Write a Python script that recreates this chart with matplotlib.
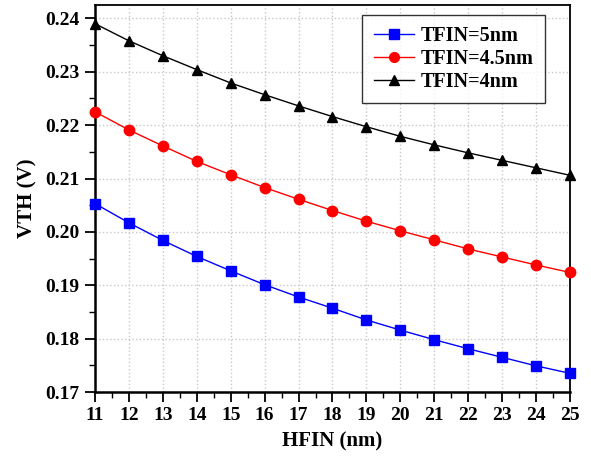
import matplotlib
matplotlib.use("Agg")
import matplotlib.pyplot as plt
from matplotlib.ticker import MultipleLocator, FormatStrFormatter

hfin = [11, 12, 13, 14, 15, 16, 17, 18, 19, 20, 21, 22, 23, 24, 25]
vth_5nm = [0.2053, 0.2017, 0.1984, 0.1954, 0.1927, 0.1901, 0.1878, 0.1857,
           0.1835, 0.1816, 0.1798, 0.1781, 0.1765, 0.1749, 0.1735]
vth_45nm = [0.2225, 0.2191, 0.2161, 0.2132, 0.2107, 0.2083, 0.2061, 0.2040,
            0.2020, 0.2002, 0.1985, 0.1968, 0.1953, 0.1938, 0.1924]
vth_4nm = [0.2390, 0.2358, 0.2330, 0.2304, 0.2279, 0.2257, 0.2236, 0.2216,
           0.2197, 0.2179, 0.2163, 0.2148, 0.2134, 0.2120, 0.2106]
labels = ["TFIN=5nm", "TFIN=4.5nm", "TFIN=4nm"]

plt.rcParams['font.family'] = ['Liberation Serif', 'DejaVu Serif']
plt.rcParams['font.weight'] = 'bold'

fig = plt.figure(figsize=(5.91, 4.57), dpi=100)
ax = fig.add_axes([0.1607, 0.1422, 0.8038, 0.8468])

ax.plot(hfin, vth_5nm, color='#0000ff', marker='s', markersize=6.5, lw=1.0, label=labels[0], clip_on=False, zorder=3)
ax.plot(hfin, vth_45nm, color='#ff0000', marker='o', markersize=7.5, lw=1.0, label=labels[1], clip_on=False, zorder=3)
ax.plot(hfin, vth_4nm, color='black', marker='^', markersize=7.5, lw=1.0, label=labels[2], clip_on=False, zorder=3)

ax.set_xlim(11, 25)
ax.set_ylim(0.17, 0.2425)
ax.xaxis.set_major_locator(MultipleLocator(1))
ax.xaxis.set_minor_locator(MultipleLocator(0.5))
ax.yaxis.set_major_locator(MultipleLocator(0.01))
ax.yaxis.set_minor_locator(MultipleLocator(0.005))
ax.yaxis.set_major_formatter(FormatStrFormatter('%.2f'))

ax.grid(True, which='major', color='#c8c8c8', linestyle=':', linewidth=1.0)
ax.tick_params(which='major', direction='out', length=7, width=1.3, labelsize=14, pad=4, top=False, right=False)
ax.tick_params(which='minor', direction='out', length=4, width=1.0, top=False, right=False)
for lab in ax.get_xticklabels() + ax.get_yticklabels():
    lab.set_fontweight('bold')

for s in ['left', 'bottom']:
    ax.spines[s].set_linewidth(1.8)
for s in ['top', 'right']:
    ax.spines[s].set_linewidth(1.3)

ax.set_xlabel("HFIN (nm)", fontsize=15, fontweight='bold', labelpad=5)
ax.set_ylabel("VTH (V)", fontsize=15, fontweight='bold', labelpad=6)

leg = ax.legend(loc='upper right', bbox_to_anchor=(0.947, 0.974), borderaxespad=0,
                frameon=True, fancybox=False, edgecolor='black', handlelength=2.0,
                borderpad=0.55, labelspacing=0.15, handletextpad=0.35,
                prop={'weight': 'bold', 'size': 14.5})
leg.get_frame().set_linewidth(1.0)
for h in leg.legend_handles:
    h.set_markersize(7)

fig.savefig("out.png", dpi=100)
